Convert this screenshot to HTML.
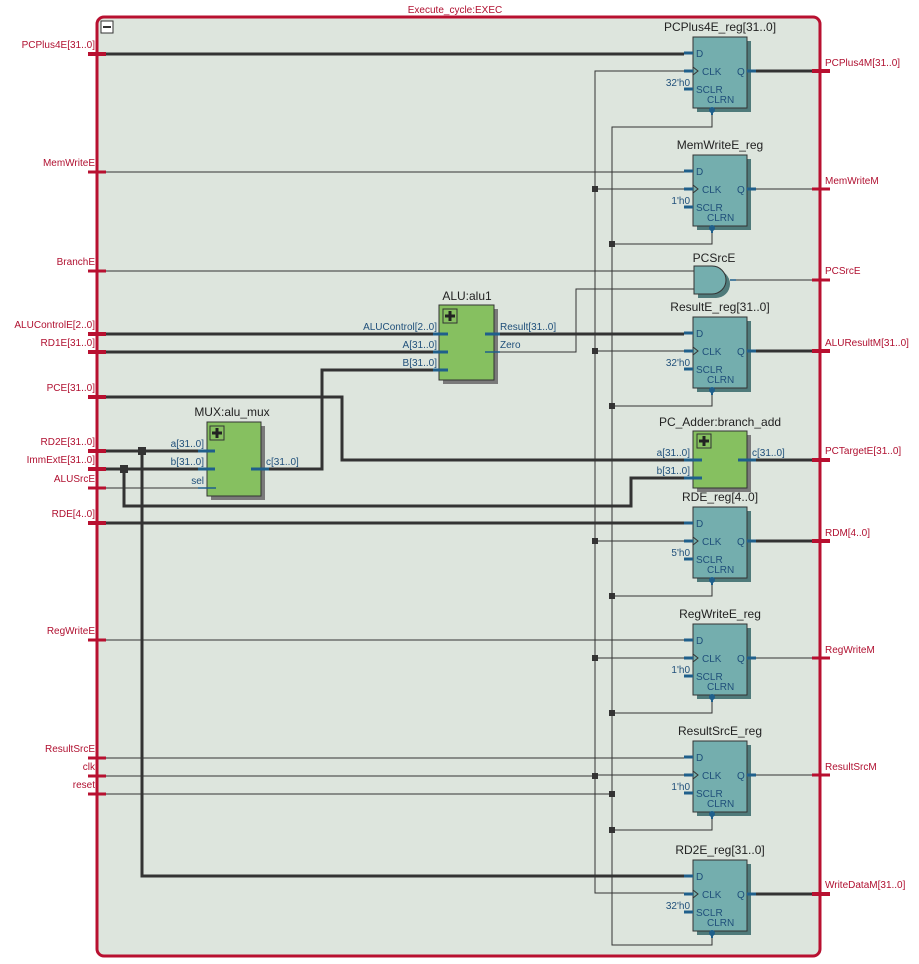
<!DOCTYPE html>
<html><head><meta charset="utf-8"><style>
html,body{margin:0;padding:0;background:#fff;}
svg{display:block;font-family:"Liberation Sans","DejaVu Sans",sans-serif;}
.pl{font-size:10px;fill:#b01030;}
.pr{font-size:10px;fill:#1f4f7a;}
.t{font-size:12px;fill:#222;}
.bus{stroke:#333;stroke-width:3;fill:none;}
.w{stroke:#333;stroke-width:1;fill:none;}
.stub{stroke:#1f5f8b;stroke-width:3;}
.stub1{stroke:#1f5f8b;stroke-width:1.5;}
.pin{stroke:#b81030;stroke-width:4;}
.pin1{stroke:#b81030;stroke-width:3;}
</style></head><body>
<svg width="919" height="964" viewBox="0 0 919 964" xmlns="http://www.w3.org/2000/svg">
<defs>
<g id="reg">
<rect x="4" y="-12" width="54" height="71" fill="#4f7a7a"/>
<rect x="0" y="-16" width="54" height="71" fill="#74aeae" stroke="#333" stroke-width="1"/>
<line x1="-9" y1="0" x2="0" y2="0" class="stub"/>
<line x1="-9" y1="18" x2="0" y2="18" class="stub"/>
<line x1="-9" y1="36" x2="0" y2="36" class="stub"/>
<line x1="54" y1="18" x2="63" y2="18" class="stub"/>
<polyline points="0,14 5,18 0,22" fill="none" stroke="#333" stroke-width="1"/>
<text x="3" y="4" class="pr">D</text>
<text x="9" y="22" class="pr">CLK</text>
<text x="3" y="40" class="pr">SCLR</text>
<text x="14" y="50" class="pr">CLRN</text>
<text x="44" y="22" class="pr">Q</text>
<circle cx="19" cy="57" r="3" fill="#1f5f8b"/>
<line x1="19" y1="59" x2="19" y2="62" stroke="#1f5f8b" stroke-width="2"/>
</g>
<g id="plus"><rect x="0" y="0" width="14" height="14" fill="#86c060" stroke="#333"/><path d="M7 2V12M2 7H12" stroke="#222" stroke-width="3"/></g>
</defs>

<!-- frame -->
<rect x="97" y="17" width="723" height="939" rx="7" fill="#dde5dd" stroke="#b81030" stroke-width="3"/>
<text x="455" y="13" text-anchor="middle" class="pl" font-size="11">Execute_cycle:EXEC</text>
<rect x="101" y="21" width="12" height="12" fill="#fff" stroke="#333"/>
<line x1="103" y1="27" x2="111" y2="27" stroke="#333" stroke-width="2"/>

<!-- input pins -->
<g text-anchor="end">
<text x="95" y="48" class="pl">PCPlus4E[31..0]</text>
<text x="95" y="166" class="pl">MemWriteE</text>
<text x="95" y="265" class="pl">BranchE</text>
<text x="95" y="328" class="pl">ALUControlE[2..0]</text>
<text x="95" y="346" class="pl">RD1E[31..0]</text>
<text x="95" y="391" class="pl">PCE[31..0]</text>
<text x="95" y="445" class="pl">RD2E[31..0]</text>
<text x="95" y="463" class="pl">ImmExtE[31..0]</text>
<text x="95" y="482" class="pl">ALUSrcE</text>
<text x="95" y="517" class="pl">RDE[4..0]</text>
<text x="95" y="634" class="pl">RegWriteE</text>
<text x="95" y="752" class="pl">ResultSrcE</text>
<text x="95" y="770" class="pl">clk</text>
<text x="95" y="788" class="pl">reset</text>
</g>
<!-- output labels -->
<g>
<text x="825" y="66" class="pl">PCPlus4M[31..0]</text>
<text x="825" y="184" class="pl">MemWriteM</text>
<text x="825" y="274" class="pl">PCSrcE</text>
<text x="825" y="346" class="pl">ALUResultM[31..0]</text>
<text x="825" y="454" class="pl">PCTargetE[31..0]</text>
<text x="825" y="536" class="pl">RDM[4..0]</text>
<text x="825" y="653" class="pl">RegWriteM</text>
<text x="825" y="770" class="pl">ResultSrcM</text>
<text x="825" y="888" class="pl">WriteDataM[31..0]</text>
</g>

<!-- wires -->
<path class="bus" d="M106 54H684"/>
<path class="w" d="M106 172H684"/>
<path class="w" d="M106 271H695"/>
<path class="bus" d="M106 334H439"/>
<path class="bus" d="M106 352H439"/>
<path class="bus" d="M106 397H342V460H684"/>
<path class="bus" d="M106 451H207"/>
<path class="bus" d="M106 469H207"/>
<path class="w" d="M106 488H207"/>
<path class="bus" d="M106 523H684"/>
<path class="w" d="M106 640H684"/>
<path class="w" d="M106 758H684"/>
<path class="w" d="M106 776H595"/>
<path class="w" d="M106 794H612"/>
<path class="bus" d="M142 451V876H684"/>
<path class="bus" d="M124 469V506H631V478H684"/>
<path class="bus" d="M260 469H322V370H439"/>
<path class="bus" d="M494 334H684"/>
<path class="w" d="M494 352H576V289H695"/>
<path class="w" d="M730 280H820"/>
<path class="bus" d="M747 460H820"/>
<rect x="138" y="447" width="8" height="8" fill="#333"/>
<rect x="120" y="465" width="8" height="8" fill="#333"/>

<!-- clock tree -->
<path class="w" d="M684 71H595V893H684"/>
<path class="w" d="M595 189H684M595 351H684M595 541H684M595 658H684M595 775H684"/>
<g fill="#333"><rect x="592" y="186" width="6" height="6"/><rect x="592" y="348" width="6" height="6"/><rect x="592" y="538" width="6" height="6"/><rect x="592" y="655" width="6" height="6"/><rect x="592" y="773" width="6" height="6"/></g>
<!-- reset tree -->
<path class="w" d="M712 113V127H612V945H712V934"/>
<path class="w" d="M712 232V244H612M712 394V406H612M712 584V596H612M712 701V713H612M712 818V830H612"/>
<g fill="#333"><rect x="609" y="241" width="6" height="6"/><rect x="609" y="403" width="6" height="6"/><rect x="609" y="593" width="6" height="6"/><rect x="609" y="710" width="6" height="6"/><rect x="609" y="791" width="6" height="6"/><rect x="609" y="827" width="6" height="6"/></g>

<!-- registers -->
<g transform="translate(693,53)"><use href="#reg"/><text x="27" y="-22" text-anchor="middle" class="t">PCPlus4E_reg[31..0]</text><text x="-3" y="33" text-anchor="end" class="pr" font-size="12">32'h0</text><path class="bus" d="M63 18H127"/></g>
<g transform="translate(693,171)"><use href="#reg"/><text x="27" y="-22" text-anchor="middle" class="t">MemWriteE_reg</text><text x="-3" y="33" text-anchor="end" class="pr" font-size="12">1'h0</text><path class="w" d="M63 18H127"/></g>
<g transform="translate(693,333)"><use href="#reg"/><text x="27" y="-22" text-anchor="middle" class="t">ResultE_reg[31..0]</text><text x="-3" y="33" text-anchor="end" class="pr" font-size="12">32'h0</text><path class="bus" d="M63 18H127"/></g>
<g transform="translate(693,523)"><use href="#reg"/><text x="27" y="-22" text-anchor="middle" class="t">RDE_reg[4..0]</text><text x="-3" y="33" text-anchor="end" class="pr" font-size="12">5'h0</text><path class="bus" d="M63 18H127"/></g>
<g transform="translate(693,640)"><use href="#reg"/><text x="27" y="-22" text-anchor="middle" class="t">RegWriteE_reg</text><text x="-3" y="33" text-anchor="end" class="pr" font-size="12">1'h0</text><path class="w" d="M63 18H127"/></g>
<g transform="translate(693,757)"><use href="#reg"/><text x="27" y="-22" text-anchor="middle" class="t">ResultSrcE_reg</text><text x="-3" y="33" text-anchor="end" class="pr" font-size="12">1'h0</text><path class="w" d="M63 18H127"/></g>
<g transform="translate(693,876)"><use href="#reg"/><text x="27" y="-22" text-anchor="middle" class="t">RD2E_reg[31..0]</text><text x="-3" y="33" text-anchor="end" class="pr" font-size="12">32'h0</text><path class="bus" d="M63 18H127"/></g>

<!-- AND gate -->
<text x="714" y="262" text-anchor="middle" class="t">PCSrcE</text>
<path d="M698 270H716A14 14 0 0 1 716 298H698Z" fill="#4f7a7a"/>
<path d="M694 266H712A14 14 0 0 1 712 294H694Z" fill="#74aeae" stroke="#333"/>
<line x1="730" y1="280" x2="736" y2="280" class="stub1"/>

<!-- ALU -->
<text x="467" y="300" text-anchor="middle" class="t">ALU:alu1</text>
<rect x="443" y="309" width="55" height="75" fill="#7a7a7a"/>
<rect x="439" y="305" width="55" height="75" fill="#86c060" stroke="#333"/>
<use href="#plus" x="443" y="309"/>
<line x1="433" y1="334" x2="448" y2="334" class="stub"/>
<line x1="433" y1="352" x2="448" y2="352" class="stub"/>
<line x1="433" y1="370" x2="448" y2="370" class="stub"/>
<line x1="485" y1="334" x2="500" y2="334" class="stub"/>
<line x1="485" y1="352" x2="500" y2="352" class="stub1"/>
<text x="437" y="330" text-anchor="end" class="pr">ALUControl[2..0]</text>
<text x="437" y="348" text-anchor="end" class="pr">A[31..0]</text>
<text x="437" y="366" text-anchor="end" class="pr">B[31..0]</text>
<text x="500" y="330" class="pr">Result[31..0]</text>
<text x="500" y="348" class="pr">Zero</text>

<!-- MUX -->
<text x="232" y="416" text-anchor="middle" class="t">MUX:alu_mux</text>
<rect x="211" y="426" width="54" height="74" fill="#7a7a7a"/>
<rect x="207" y="422" width="54" height="74" fill="#86c060" stroke="#333"/>
<use href="#plus" x="210" y="426"/>
<line x1="198" y1="451" x2="215" y2="451" class="stub"/>
<line x1="198" y1="469" x2="215" y2="469" class="stub"/>
<line x1="198" y1="488" x2="216" y2="488" class="stub1"/>
<line x1="251" y1="469" x2="269" y2="469" class="stub"/>
<text x="204" y="447" text-anchor="end" class="pr">a[31..0]</text>
<text x="204" y="465" text-anchor="end" class="pr">b[31..0]</text>
<text x="204" y="484" text-anchor="end" class="pr">sel</text>
<text x="266" y="465" class="pr">c[31..0]</text>

<!-- Adder -->
<text x="720" y="426" text-anchor="middle" class="t">PC_Adder:branch_add</text>
<rect x="697" y="435" width="54" height="57" fill="#7a7a7a"/>
<rect x="693" y="431" width="54" height="57" fill="#86c060" stroke="#333"/>
<use href="#plus" x="697" y="434"/>
<line x1="684" y1="460" x2="702" y2="460" class="stub"/>
<line x1="684" y1="478" x2="702" y2="478" class="stub"/>
<line x1="738" y1="460" x2="756" y2="460" class="stub"/>
<text x="690" y="456" text-anchor="end" class="pr">a[31..0]</text>
<text x="690" y="474" text-anchor="end" class="pr">b[31..0]</text>
<text x="752" y="456" class="pr">c[31..0]</text>

<!-- pins on frame -->
<g class="pin"><line x1="88" y1="54" x2="106" y2="54"/><line x1="88" y1="334" x2="106" y2="334"/><line x1="88" y1="352" x2="106" y2="352"/><line x1="88" y1="397" x2="106" y2="397"/><line x1="88" y1="451" x2="106" y2="451"/><line x1="88" y1="469" x2="106" y2="469"/><line x1="88" y1="523" x2="106" y2="523"/>
<line x1="812" y1="71" x2="830" y2="71"/><line x1="812" y1="351" x2="830" y2="351"/><line x1="812" y1="460" x2="830" y2="460"/><line x1="812" y1="541" x2="830" y2="541"/><line x1="812" y1="894" x2="830" y2="894"/></g>
<g class="pin1"><line x1="88" y1="172" x2="106" y2="172"/><line x1="88" y1="271" x2="106" y2="271"/><line x1="88" y1="488" x2="106" y2="488"/><line x1="88" y1="640" x2="106" y2="640"/><line x1="88" y1="758" x2="106" y2="758"/><line x1="88" y1="776" x2="106" y2="776"/><line x1="88" y1="794" x2="106" y2="794"/>
<line x1="812" y1="189" x2="830" y2="189"/><line x1="812" y1="280" x2="830" y2="280"/><line x1="812" y1="658" x2="830" y2="658"/><line x1="812" y1="775" x2="830" y2="775"/></g>
</svg>
</body></html>
